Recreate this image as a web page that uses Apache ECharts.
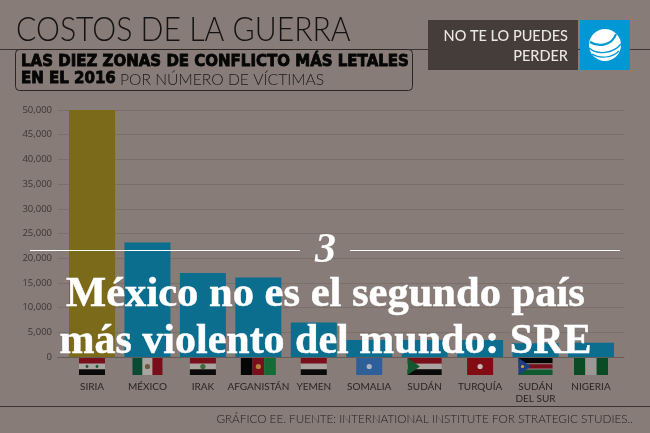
<!DOCTYPE html>
<html><head><meta charset="utf-8">
<style>html,body{margin:0;padding:0;background:#877c77}#c{width:650px;height:433px}</style>
<script src="https://cdn.jsdelivr.net/npm/echarts@6/dist/echarts.min.js"></script>
</head><body><div id="c"></div>
<script>
const categories=["SIRIA","MÉXICO","IRAK","AFGANISTÁN","YEMEN","SOMALIA","SUDÁN","TURQUÍA","SUDÁN\nDEL SUR","NIGERIA"];
const victims=[50000,23200,17000,16100,7000,3450,3450,3450,2800,2900];
const barColors=["#7b6a1a","#0c6e8f","#0c6e8f","#0c6e8f","#0c6e8f","#0c6e8f","#0c6e8f","#0c6e8f","#0c6e8f","#0c6e8f"];
const yTicks=[0,5000,10000,15000,20000,25000,30000,35000,40000,45000,50000];
const flags=[
 {w:26,dir:'h',s:["#7a0f1c","#aaa4a1","#0a0a0a"],stars:["#0f5a30",2]},
 {w:30,dir:'v',s:["#0a4a33","#aaa4a1","#7a0f1c"],dot:"#6d5a3c"},
 {w:26,dir:'h',s:["#7a0f1c","#aaa4a1","#0a0a0a"],dot:"#3c6a3c"},
 {w:35,dir:'v',s:["#060606","#7a0f1c","#146b34"],dot:"#b5803c"},
 {w:26,dir:'h',s:["#7a0f1c","#aaa4a1","#0a0a0a"]},
 {w:26,dir:'h',s:["#2f5f99"],dot:"#a9b4c4"},
 {w:34,dir:'h',s:["#7a0f1c","#aaa4a1","#0a0a0a"],tri:"#14562f"},
 {w:26,dir:'h',s:["#820c14"],dot:"#c9b9b6"},
 {w:34,dir:'h',s:["#060606","#aaa4a1","#7a0f1c","#aaa4a1","#0f5a30"],f:[.32,.05,.26,.05,.32],tri:"#1c3f86",dot2:"#c9a92a"},
 {w:34,dir:'v',s:["#0a4a25","#9c9794","#0a4a25"]}
];
const chart=echarts.init(document.getElementById('c'),null,{renderer:'canvas'});
const FH=17;
function flagItem(p,api){
 const i=api.value(0),f=flags[i],c=api.coord([i,0]),x0=c[0]-f.w/2,y0=c[1]+1,ch=[];
 const frac=f.f||f.s.map(()=>1/f.s.length);let t=0;
 f.s.forEach((col,k)=>{
  ch.push({type:'rect',shape:f.dir==='h'?{x:x0,y:y0+t*FH,width:f.w,height:frac[k]*FH}:{x:x0+t*f.w,y:y0,width:frac[k]*f.w,height:FH},style:{fill:col}});
  t+=frac[k];
 });
 if(f.tri)ch.push({type:'polygon',shape:{points:[[x0,y0],[x0+f.w*.36,y0+FH/2],[x0,y0+FH]]},style:{fill:f.tri}});
 if(f.dot)ch.push({type:'circle',shape:{cx:c[0],cy:y0+FH/2,r:2.6},style:{fill:f.dot}});
 if(f.dot2)ch.push({type:'circle',shape:{cx:x0+4,cy:y0+FH/2,r:1.6},style:{fill:f.dot2}});
 if(f.stars){ch.push({type:'circle',shape:{cx:c[0]-5,cy:y0+FH/2,r:1.4},style:{fill:f.stars[0]}});ch.push({type:'circle',shape:{cx:c[0]+5,cy:y0+FH/2,r:1.4},style:{fill:f.stars[0]}});}
 return {type:'group',children:ch};
}
const thin='"Lato","Open Sans",sans-serif';
const serif='"Liberation Serif",serif';
function txt(x,y,t,o){return {type:'text',x:x,y:y,z:o.z||10,scaleX:o.sx||1,style:{text:t,fill:o.c||'#111',font:o.font,textAlign:o.a||'left',textVerticalAlign:'middle',stroke:o.st||null,lineWidth:o.lw||0}};}
function ln(x1,y,x2,c,z){return {type:'line',z:z,shape:{x1:x1,y1:y,x2:x2,y2:y},style:{stroke:c,lineWidth:1}};}
function bz(a,b,c,d,e,f,g,h,w){return {type:'bezierCurve',z:7,shape:{x1:a,y1:b,cpx1:c,cpy1:d,cpx2:e,cpy2:f,x2:g,y2:h},style:{fill:null,stroke:'#0098d4',lineWidth:w}};}
const graphicEls=[
 ln(0,49.5,650,'#3b3431',1),
 ln(0,406.5,650,'#3b3431',1),
 txt(16,30,"COSTOS DE LA GUERRA",{font:'300 33px '+thin,c:'#141212',sx:.915}),
 {type:'rect',z:2,shape:{x:15.5,y:49.5,width:397,height:41,r:4},style:{fill:'#877c77',stroke:'#2b2623',lineWidth:1}},
 txt(21,62.5,"LAS DIEZ ZONAS DE CONFLICTO MÁS LETALES",{font:'900 15px "DejaVu Sans"',c:'#060606',st:'#060606',lw:.8}),
 txt(21,79.5,"EN EL 2016",{font:'900 15px "DejaVu Sans"',c:'#060606',st:'#060606',lw:.8}),
 txt(120,79.5,"POR NÚMERO DE VÍCTIMAS",{font:'300 16px '+thin,c:'#1c1917',sx:.98}),
 {type:'rect',z:5,shape:{x:428,y:20,width:150,height:50},style:{fill:'#443d39'}},
 txt(568,36,"NO TE LO PUEDES",{font:'500 14.5px '+thin,c:'#e9e7e5',a:'right'}),
 txt(568,56,"PERDER",{font:'500 14.5px '+thin,c:'#e9e7e5',a:'right'}),
 {type:'rect',z:5,shape:{x:580,y:20,width:50,height:50},style:{fill:'#0098d4'}},
 {type:'circle',z:6,shape:{cx:605,cy:45,r:16},style:{fill:'#fff'}},
 bz(590,42,598,47,612,46,616,34,2.2),
 bz(589,48,597,55,613,54,621,44,1.3),
 bz(592,54,600,59,612,58,619,51,1.2),
 txt(633,419.5,"GRÁFICO EE. FUENTE: INTERNATIONAL INSTITUTE FOR STRATEGIC STUDIES..",{font:'300 11.7px '+thin,c:'#26211f',a:'right'}),
 ln(30,250.5,300,'#ffffff',20),
 ln(350,250.5,620,'#ffffff',20),
 txt(325.5,251,"3",{font:'italic 700 42px '+serif,c:'#fff',a:'center',z:20}),
 txt(325.5,295.5,"México no es el segundo país",{font:'700 42px '+serif,c:'#fff',st:'#fff',lw:.5,sx:1.013,a:'center',z:20}),
 txt(325.5,342,"más violento del mundo: SRE",{font:'700 42px '+serif,c:'#fff',st:'#fff',lw:.5,a:'center',z:20})
];
chart.setOption({
 animation:false,
 backgroundColor:'#877c77',
 grid:[{left:64.3,width:554.4,top:110,height:247},{left:58,width:566,top:110,height:247}],
 xAxis:[
  {type:'category',gridIndex:0,data:categories,axisLine:{show:false},axisTick:{show:false},
   axisLabel:{interval:0,margin:24,fontFamily:'"Lato","Open Sans",sans-serif',fontSize:10,color:'#2a2523',lineHeight:12}},
  {type:'value',gridIndex:1,min:0,max:1,axisLabel:{show:false},axisTick:{show:false},splitLine:{show:false},
   axisLine:{show:true,lineStyle:{color:'#655c57',width:1}}}
 ],
 yAxis:[
  {type:'value',gridIndex:0,min:0,max:50000,show:false},
  {type:'value',gridIndex:1,min:0,max:50000,interval:5000,
   axisLine:{show:false},axisTick:{show:false},
   splitLine:{show:true,lineStyle:{color:'#7a706b',width:1}},
   axisLabel:{margin:6,fontFamily:'"Open Sans",sans-serif',fontSize:9.5,color:'#3d3633',
    formatter:v=>yTicks.includes(v)?v.toLocaleString('en-US'):''}}
 ],
 series:[
  {type:'bar',xAxisIndex:0,yAxisIndex:0,barWidth:46,data:victims.map((v,i)=>({value:v,itemStyle:{color:barColors[i]}})),z:3},
  {type:'custom',xAxisIndex:0,yAxisIndex:0,clip:false,silent:true,renderItem:flagItem,data:categories.map((c,i)=>[i,0]),encode:{x:0,y:1},z:4}
 ],
 graphic:{elements:graphicEls}
});
</script></body></html>
